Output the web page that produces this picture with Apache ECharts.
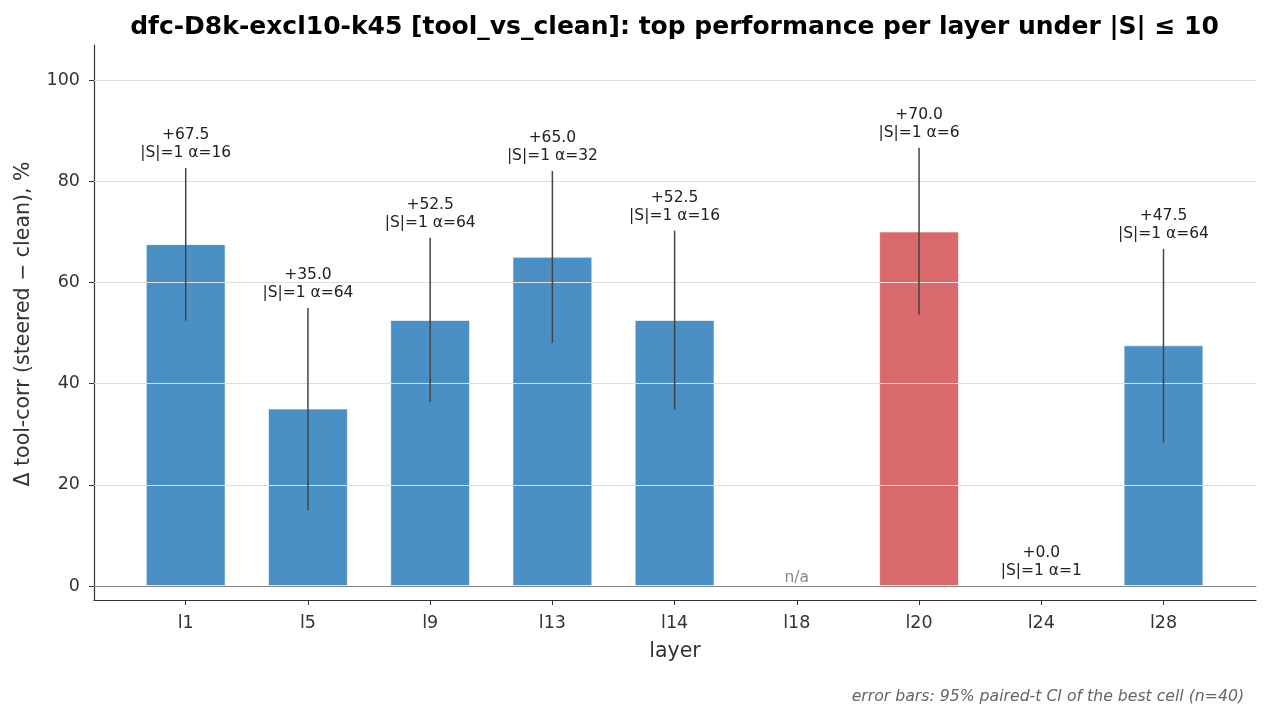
<!DOCTYPE html>
<html><head><meta charset="utf-8">
<script src="https://cdn.jsdelivr.net/npm/echarts@6/dist/echarts.min.js"></script>
<style>html,body{margin:0;padding:0;background:#fff}#c{width:1271px;height:719px}</style>
</head><body><div id="c"></div>
<script>
const layers = ['l1','l5','l9','l13','l14','l18','l20','l24','l28'];
const bestDelta = [67.5, 35.0, 52.5, 65.0, 52.5, null, 70.0, 0.0, 47.5];
const ciLow  = [52.4, 15.0, 36.4, 48.0, 34.8, null, 53.6, 0.0, 28.3];
const ciHigh = [82.6, 54.9, 68.8, 82.0, 70.2, null, 86.6, 0.0, 66.6];
const bestCell = ['|S|=1 α=16','|S|=1 α=64','|S|=1 α=64','|S|=1 α=32','|S|=1 α=16', null,'|S|=1 α=6','|S|=1 α=1','|S|=1 α=64'];
const highlightLayer = 'l20';
const yTicks = [0, 20, 40, 60, 80, 100];
const yMin = -2.8, yMax = 106.9;

const FONT = 'DejaVu Sans';
const BLUE = '#4a90c4', RED = '#d9696a';
const chart = echarts.init(document.getElementById('c'), null, {renderer: 'canvas'});

const fmt = v => (v >= 0 ? '+' : '') + v.toFixed(1);

const option = {
  animation: false,
  backgroundColor: '#fff',
  textStyle: {fontFamily: FONT},
  grid: [
    {left: 94, right: 15, top: 45, bottom: 119},   // spines
    {left: 94, right: 15, top: 80, bottom: 133},   // ticks 0..100 & grid lines
    {left: 124.6, right: 46.4, top: 45, bottom: 119} // bars
  ],
  xAxis: [
    {gridIndex: 0, type: 'value', min: 0, max: 1, axisLine: {show: true, onZero: false, lineStyle: {color: '#333', width: 1.2}},
     axisTick: {show: false}, axisLabel: {show: false}, splitLine: {show: false}},
    {gridIndex: 1, type: 'value', min: 0, max: 1, z: 5, axisLine: {show: true, onZero: false, lineStyle: {color: '#888', width: 1}},
     axisTick: {show: false}, axisLabel: {show: false}, splitLine: {show: false}},
    {gridIndex: 2, type: 'category', data: layers, boundaryGap: true,
     axisLine: {show: false, onZero: false}, axisTick: {show: true, alignWithLabel: true, length: 5, lineStyle: {color: '#333', width: 1}},
     axisLabel: {fontSize: 17.5, color: '#333', margin: 14, fontFamily: FONT}, splitLine: {show: false}}
  ],
  yAxis: [
    {gridIndex: 0, type: 'value', min: yMin, max: yMax, axisLine: {show: true, onZero: false, lineStyle: {color: '#333', width: 1.2}},
     axisTick: {show: false}, axisLabel: {show: false}, splitLine: {show: false}},
    {gridIndex: 1, type: 'value', min: yTicks[0], max: yTicks[yTicks.length - 1], interval: yTicks[1] - yTicks[0], z: 4,
     axisLine: {show: false}, axisTick: {show: true, length: 5, lineStyle: {color: '#333', width: 1}},
     axisLabel: {fontSize: 17.5, color: '#333', margin: 14, fontFamily: FONT},
     splitLine: {show: true, lineStyle: {color: '#dddddd', width: 1}}},
    {gridIndex: 2, type: 'value', min: yMin, max: yMax, show: false}
  ],
  series: [
    {
      type: 'bar', xAxisIndex: 2, yAxisIndex: 2, barWidth: '65%', z: 2,
      data: bestDelta.map((v, i) => ({
        value: v,
        itemStyle: {color: layers[i] === highlightLayer ? RED : BLUE, borderColor: '#ffffff', borderWidth: 0.6}
      }))
    },
    {
      type: 'custom', xAxisIndex: 2, yAxisIndex: 2, z: 10, clip: false,
      data: layers.map((l, i) => [i, bestDelta[i], ciLow[i], ciHigh[i]]),
      renderItem: function (params, api) {
        const i = api.value(0);
        const v = bestDelta[i];
        const x = api.coord([i, 0])[0];
        const children = [];
        if (v === null) {
          const p0 = api.coord([i, 0]);
          children.push({type: 'text', style: {text: 'n/a', x: x, y: p0[1], align: 'center', verticalAlign: 'bottom',
            fill: '#888', fontSize: 15.5, fontFamily: FONT}});
          return {type: 'group', children};
        }
        const lo = ciLow[i], hi = ciHigh[i];
        const pLo = api.coord([i, lo]), pHi = api.coord([i, hi]);
        if (hi !== lo) {
          children.push({type: 'line', shape: {x1: x, y1: pLo[1], x2: x, y2: pHi[1]},
            style: {stroke: '#444', lineWidth: 1.5}});
        }
        const top = Math.max(hi, v);
        const pt = api.coord([i, top]);
        children.push({type: 'text', style: {text: fmt(v) + '\n' + bestCell[i], x: x, y: pt[1] - 6,
          align: 'center', verticalAlign: 'bottom', lineHeight: 18, fill: '#222', fontSize: 15.5, fontFamily: FONT}});
        return {type: 'group', children};
      }
    }
  ],
  graphic: [
    {type: 'text', style: {text: 'dfc-D8k-excl10-k45 [tool_vs_clean]: top performance per layer under |S| ≤ 10',
      x: 674.5, y: 27, align: 'center', verticalAlign: 'middle',
      fontFamily: FONT, fontWeight: 'bold', fontSize: 25, fill: '#000'}},
    {type: 'text', style: {text: 'layer', x: 675, y: 652, align: 'center', verticalAlign: 'middle', fontFamily: FONT, fontSize: 20.5, fill: '#333'}},
    {type: 'text', x: 24, y: 324, rotation: Math.PI / 2,
      style: {text: 'Δ tool-corr (steered − clean), %', x: 0, y: 0, align: 'center', verticalAlign: 'middle', fontFamily: FONT, fontSize: 20.5, fill: '#333'}},
    {type: 'text', style: {text: 'error bars: 95% paired-t CI of the best cell (n=40)', x: 1244, y: 697, align: 'right', verticalAlign: 'middle',
      fontFamily: FONT, fontStyle: 'italic', fontSize: 15.7, fill: '#666'}}
  ]
};
chart.setOption(option);
</script></body></html>
